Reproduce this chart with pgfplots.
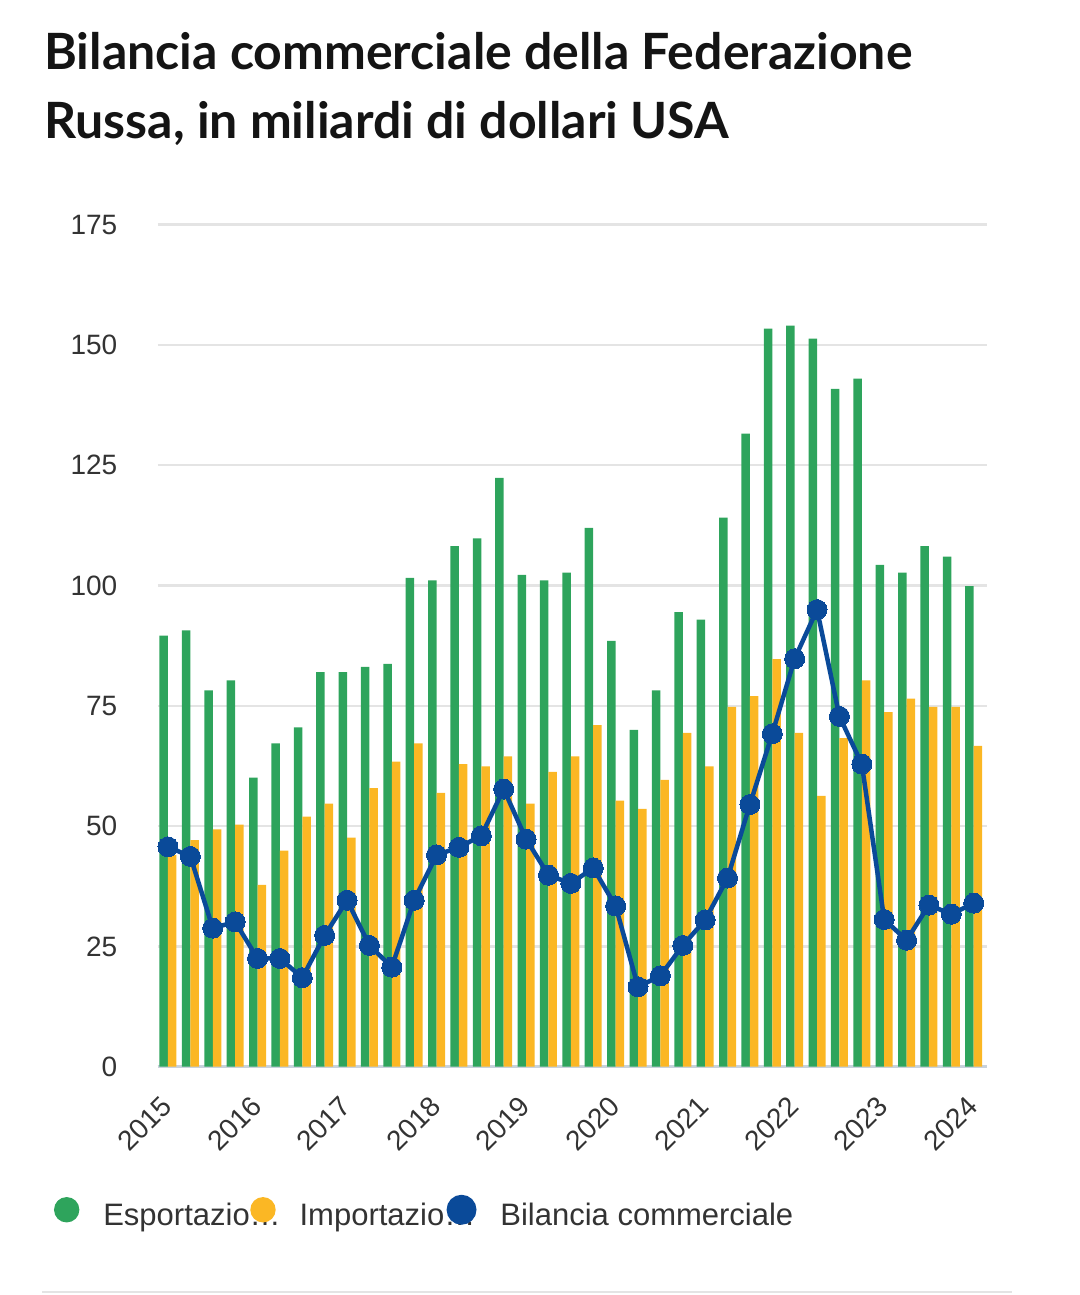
\documentclass[border=0pt]{standalone}
\usepackage{fontspec}
\setmainfont{Liberation Sans}
\newfontfamily\titlefont{Lato}
\usepackage{pgfplots}
\pgfplotsset{compat=1.18}
\definecolor{gC}{RGB}{46,164,92}
\definecolor{oC}{RGB}{251,183,36}
\definecolor{bC}{RGB}{10,74,153}
\definecolor{gridC}{RGB}{228,228,228}
\definecolor{baseC}{RGB}{200,210,220}
\definecolor{txtC}{RGB}{51,51,51}
\definecolor{titC}{RGB}{20,20,20}
\begin{document}
\begin{tikzpicture}
\path[use as bounding box] (0,0) rectangle (540pt,647.5pt);
\node[anchor=base west, inner sep=0pt, text=titC, font=\titlefont\bfseries\fontsize{25}{30}\selectfont] at (22pt,612.5pt) {Bilancia commerciale della Federazione};
\node[anchor=base west, inner sep=0pt, text=titC, font=\titlefont\bfseries\fontsize{25}{30}\selectfont] at (22pt,578.35pt) {Russa, in miliardi di dollari USA};
\begin{axis}[
  at={(78.85pt,114.15pt)}, anchor=south west,
  width=414.5pt, height=421pt, scale only axis,
  xmin=-0.46, xmax=36.58, ymin=0, ymax=175,
  axis lines*=left,
  y axis line style={draw=none},
  x axis line style={draw=baseC, line width=1.5pt},
  major tick length=0pt,
  ymajorgrids, grid style={draw=gridC, line width=1.2pt},
  ytick={0,25,50,75,100,125,150,175},
  xtick={0,4,8,12,16,20,24,28,32,36},
  xticklabels={2015,2016,2017,2018,2019,2020,2021,2022,2023,2024},
  /pgf/number format/assume math mode=true,
  tick label style={font=\fontsize{14}{16}\selectfont, text=txtC},
  yticklabel style={anchor=east, inner sep=0pt, xshift=-20pt},
  xticklabel style={xshift=-0.5pt, yshift=-17.5pt, rotate=45, anchor=east, inner sep=0pt},
  legend columns=3,
  legend style={draw=none, fill=none, at={(-0.12509,-0.15214)}, anchor=north west,
    inner sep=0pt, outer sep=0pt, row sep=0pt,
    font=\fontsize{15.5}{18}\selectfont, text=txtC,
    nodes={inner sep=0pt, anchor=base west},
    /tikz/every odd column/.append style={column sep=11.95pt},
    /tikz/every even column/.append style={column sep=0pt}},
]
\addplot[ybar, bar width=4.25pt, bar shift=-2.125pt, fill=gC, draw=none,
  legend image code/.code={\fill[gC] (6.35pt,7.75pt) circle[radius=6.35pt];}]
  coordinates {
(0,89.6)(1,90.7)(2,78.2)(3,80.3)(4,60.1)(5,67.2)(6,70.5)(7,82.0)(8,82.0)(9,83.1)
(10,83.7)(11,101.6)(12,101.1)(13,108.2)(14,109.8)(15,122.4)(16,102.2)(17,101.1)(18,102.7)(19,112.0)
(20,88.5)(21,70.0)(22,78.2)(23,94.5)(24,92.9)(25,114.1)(26,131.6)(27,153.4)(28,154.0)(29,151.3)
(30,140.9)(31,143.0)(32,104.3)(33,102.7)(34,108.2)(35,106.0)(36,99.9)};
\addlegendentry{\makebox[73.5pt][l]{Esportazio…}}
\addplot[ybar, bar width=4.25pt, bar shift=2.125pt, fill=oC, draw=none,
  legend image code/.code={\fill[oC] (6.35pt,7.75pt) circle[radius=6.35pt];}]
  coordinates {
(0,44.0)(1,47.1)(2,49.3)(3,50.3)(4,37.8)(5,44.9)(6,52.0)(7,54.7)(8,47.6)(9,57.9)
(10,63.4)(11,67.2)(12,56.9)(13,62.9)(14,62.4)(15,64.5)(16,54.7)(17,61.3)(18,64.5)(19,71.0)
(20,55.3)(21,53.6)(22,59.6)(23,69.4)(24,62.4)(25,74.8)(26,77.0)(27,84.7)(28,69.4)(29,56.3)
(30,68.3)(31,80.3)(32,73.7)(33,76.5)(34,74.8)(35,74.8)(36,66.7)};
\addlegendentry{\makebox[73.5pt][l]{Importazio…}}
\addplot[draw=bC, line width=2.25pt, mark=*, mark size=5pt, mark options={fill=bC, draw=bC, line width=0pt},
  legend image code/.code={\fill[bC] (6.35pt,7.75pt) circle[radius=6.35pt];}]
  coordinates {
(0,45.7)(1,43.7)(2,28.8)(3,30.1)(4,22.5)(5,22.5)(6,18.5)(7,27.3)(8,34.6)(9,25.2)
(10,20.7)(11,34.6)(12,44.0)(13,45.6)(14,48.0)(15,57.7)(16,47.3)(17,39.8)(18,38.1)(19,41.3)
(20,33.4)(21,16.6)(22,18.9)(23,25.2)(24,30.5)(25,39.2)(26,54.5)(27,69.2)(28,84.8)(29,95.0)
(30,72.8)(31,62.9)(32,30.6)(33,26.3)(34,33.6)(35,31.7)(36,34.0)};
\addlegendentry{Bilancia commerciale}
\end{axis}
\draw[draw=gridC, line width=1pt] (21pt,1.5pt) -- (506pt,1.5pt);
\end{tikzpicture}
\end{document}
